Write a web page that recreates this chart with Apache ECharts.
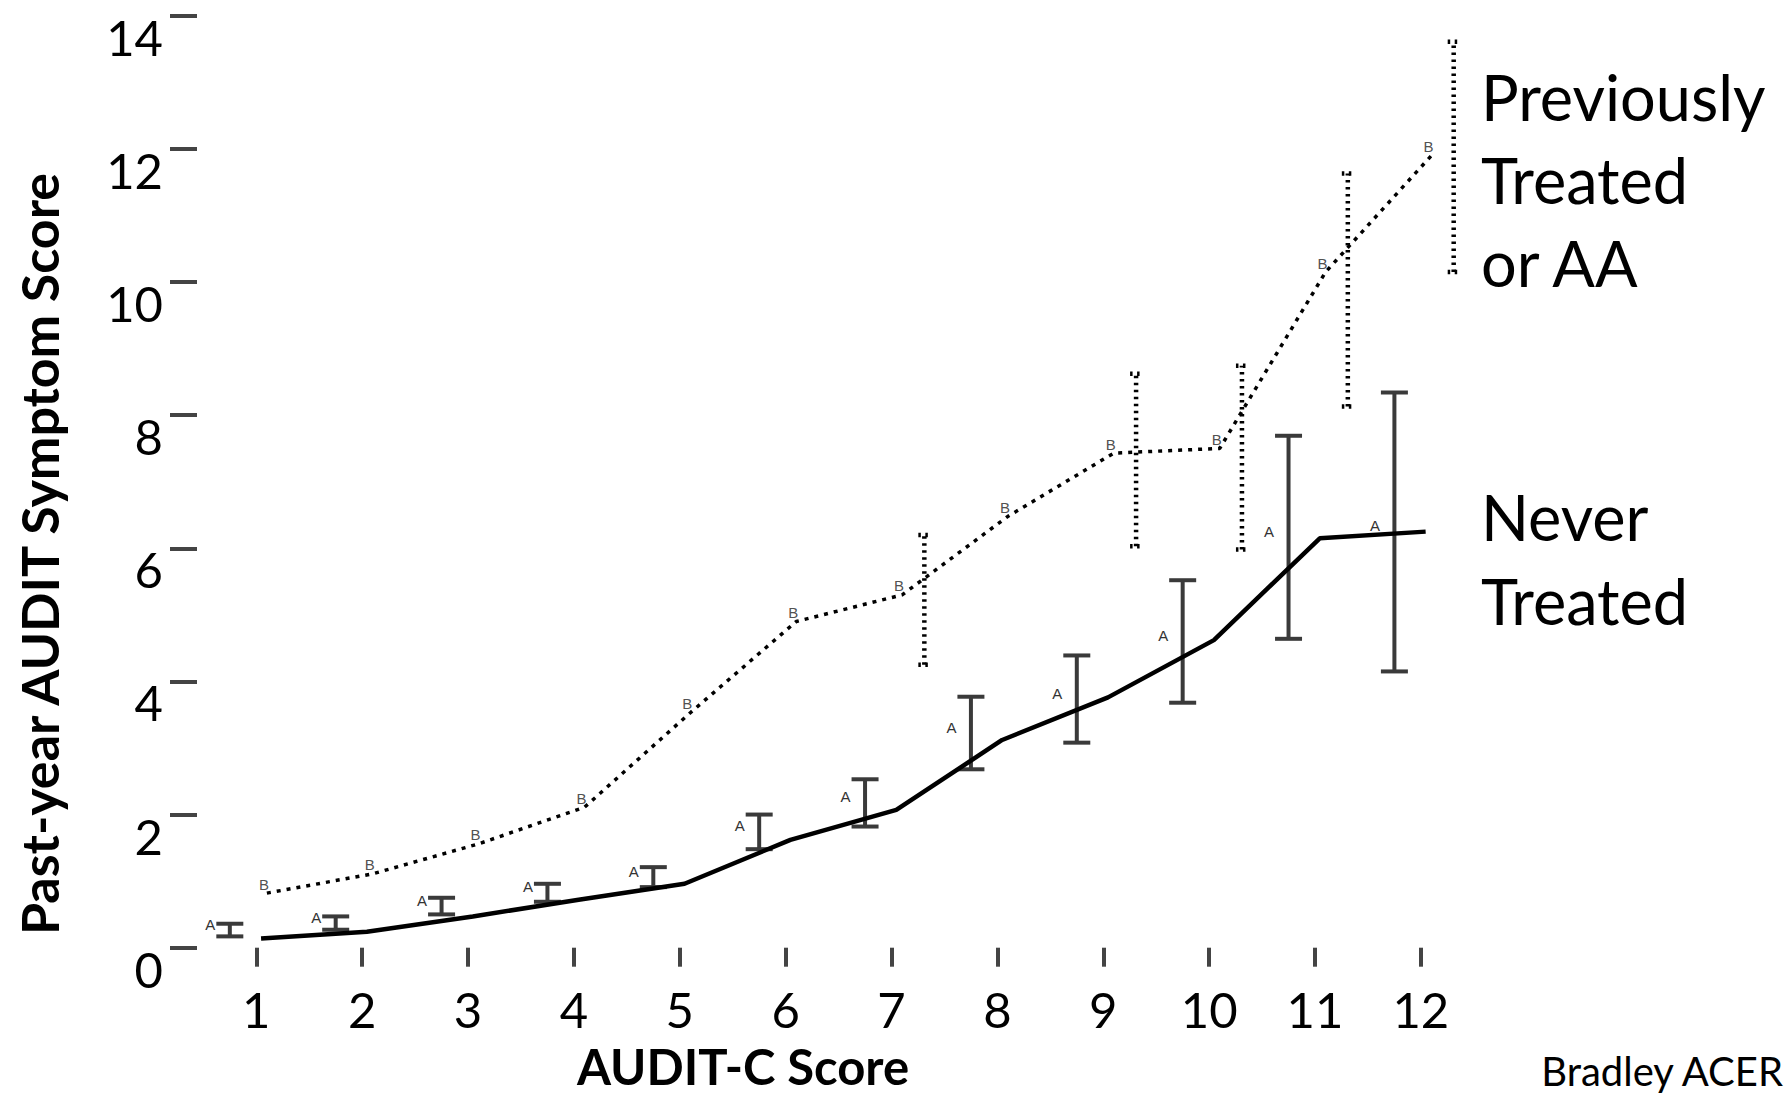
<!DOCTYPE html>
<html>
<head>
<meta charset="utf-8">
<script src="https://cdn.jsdelivr.net/npm/echarts@6/dist/echarts.min.js"></script>
<style>
  html, body { margin: 0; padding: 0; background: #fff; }
  #chart { width: 1792px; height: 1096px; }
</style>
</head>
<body>
<div id="chart"></div>
<script>
// AUDIT-C score categories
const scores = [1, 2, 3, 4, 5, 6, 7, 8, 9, 10, 11, 12];

// Never treated (A): line and error bars
const neverMean = [0.14, 0.24, 0.47, 0.72, 0.96, 1.62, 2.07, 3.12, 3.76, 4.62, 6.15, 6.25];
const neverLow  = [0.17, 0.27, 0.50, 0.69, 0.91, 1.48, 1.82, 2.68, 3.08, 3.68, 4.64, 4.15];
const neverHigh = [0.36, 0.47, 0.75, 0.96, 1.21, 2.00, 2.53, 3.77, 4.39, 5.52, 7.69, 8.34];

// Previously treated or AA (B): line and error bars (only some drawn)
const prevMean = [0.82, 1.11, 1.56, 2.11, 3.53, 4.90, 5.30, 6.48, 7.43, 7.50, 10.15, 11.90];
const prevLow  = [null, null, null, null, null, null, 4.25, null, 6.03, 5.98, 8.13, 10.15];
const prevHigh = [null, null, null, null, null, null, 6.20, null, 8.62, 8.74, 11.63, 13.61];

// horizontal dodge of each layer (axis units)
const NEVER_LINE_SHIFT = 0.045;
const NEVER_BAR_SHIFT = -0.25;
const PREV_LINE_SHIFT = 0.1;
const PREV_BAR_SHIFT = 0.31;

const chart = echarts.init(document.getElementById('chart'), null, { renderer: 'svg' });

function barData(low, high) {
  const out = [];
  scores.forEach((s, i) => {
    if (low[i] != null && high[i] != null) out.push([s, low[i], high[i]]);
  });
  return out;
}

function barRenderer(shift, lineStyle, halfCap, label) {
  return function (params, api) {
    const x = api.value(0) + shift;
    const lo = api.coord([x, api.value(1)]);
    const hi = api.coord([x, api.value(2)]);
    const mid = api.coord([x, (api.value(1) + api.value(2)) / 2]);
    const children = [
      { type: 'line', shape: { x1: lo[0], y1: lo[1], x2: hi[0], y2: hi[1] }, style: lineStyle },
      { type: 'line', shape: { x1: lo[0] - halfCap, y1: lo[1], x2: lo[0] + halfCap, y2: lo[1] }, style: lineStyle },
      { type: 'line', shape: { x1: hi[0] - halfCap, y1: hi[1], x2: hi[0] + halfCap, y2: hi[1] }, style: lineStyle }
    ];
    if (label) {
      children.push({
        type: 'text',
        x: mid[0] - halfCap - 1,
        y: mid[1] - 6,
        style: {
          text: label, align: 'right', verticalAlign: 'middle',
          font: '15px "Liberation Sans"', fill: '#333'
        }
      });
    }
    return { type: 'group', children: children };
  };
}

const option = {
  animation: false,
  backgroundColor: '#fff',
  grid: { left: 197, top: 15.7, width: 1287.4, height: 932, outerBoundsMode: 'none' },
  xAxis: {
    type: 'value',
    min: 0.44,
    max: 12.6,
    axisLine: { show: false },
    splitLine: { show: false },
    axisTick: {
      show: true, length: 19, customValues: scores,
      lineStyle: { color: '#444', width: 4 }
    },
    axisLabel: {
      customValues: scores, margin: 37,
      fontFamily: 'Lato', fontSize: 49, lineHeight: 49, color: '#000'
    }
  },
  yAxis: {
    type: 'value',
    min: 0,
    max: 14,
    interval: 2,
    axisLine: { show: false },
    splitLine: { show: false },
    axisTick: { show: true, length: 27, lineStyle: { color: '#444', width: 4 } },
    axisLabel: {
      margin: 34, fontFamily: 'Lato', fontSize: 49, color: '#000',
      verticalAlign: 'top', lineHeight: 42
    }
  },
  graphic: [
    {
      type: 'text', x: 39, y: 554, rotation: Math.PI / 2,
      style: {
        text: 'Past-year AUDIT Symptom Score', align: 'center', verticalAlign: 'middle',
        font: 'bold 52px Lato', fill: '#000'
      }
    },
    {
      type: 'text', x: 743, y: 1066,
      style: {
        text: 'AUDIT-C Score', align: 'center', verticalAlign: 'middle',
        lineHeight: 46, font: 'bold 49px Lato', fill: '#000'
      }
    },
    {
      type: 'text', x: 1783, y: 1071,
      style: {
        text: 'Bradley ACER', align: 'right', verticalAlign: 'middle',
        lineHeight: 38, font: '40px Lato', fill: '#000'
      }
    },
    {
      type: 'text', x: 1481, y: 54.5,
      style: {
        text: 'Previously\nTreated\nor AA', align: 'left', verticalAlign: 'top',
        lineHeight: 83, font: '63px Lato', fill: '#000'
      }
    },
    {
      type: 'text', x: 1481, y: 474,
      style: {
        text: 'Never\nTreated', align: 'left', verticalAlign: 'top',
        lineHeight: 84, font: '63px Lato', fill: '#000'
      }
    }
  ],
  series: [
    {
      name: 'Never Treated',
      type: 'line',
      symbol: 'none',
      lineStyle: { color: '#000', width: 4.5 },
      data: scores.map((s, i) => [s + NEVER_LINE_SHIFT, neverMean[i]]),
      z: 3
    },
    {
      name: 'Previously Treated or AA',
      type: 'line',
      symbol: 'none',
      lineStyle: { color: '#000', width: 3.5, type: [4, 6] },
      data: scores.map((s, i) => [s + PREV_LINE_SHIFT, prevMean[i]]),
      z: 3
    },
    {
      name: 'B labels',
      type: 'scatter',
      symbolSize: 1,
      itemStyle: { color: 'transparent' },
      label: {
        show: true, position: 'inside', offset: [-3, -9], formatter: 'B',
        fontFamily: 'Liberation Sans', fontSize: 15, color: '#222'
      },
      data: scores.map((s, i) => [s + PREV_LINE_SHIFT, prevMean[i]]),
      z: 4
    },
    {
      name: 'Never Treated CI',
      type: 'custom',
      renderItem: barRenderer(NEVER_BAR_SHIFT, { stroke: '#3a3a3a', lineWidth: 4 }, 13.5, 'A'),
      data: barData(neverLow, neverHigh),
      z: 2
    },
    {
      name: 'Previously Treated CI',
      type: 'custom',
      renderItem: barRenderer(PREV_BAR_SHIFT, { stroke: '#000', lineWidth: 4.5, lineDash: [2.5, 4.5] }, 6, null),
      data: barData(prevLow, prevHigh),
      z: 2
    }
  ]
};

chart.setOption(option);
</script>
</body>
</html>
